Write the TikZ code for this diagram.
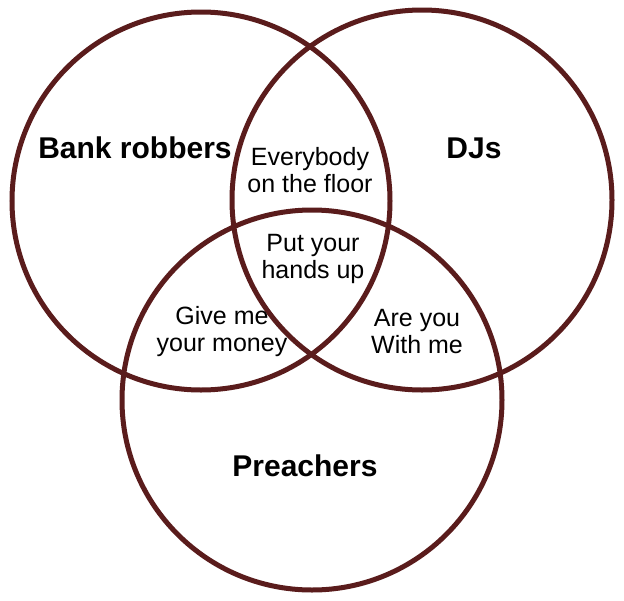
\documentclass[tikz,border=0pt]{standalone}
\usepackage{fontspec}
\setmainfont{Liberation Sans}
\definecolor{ringred}{HTML}{5A1C1C}
\begin{document}
\begin{tikzpicture}
      [
      x=1pt, y=-1pt,
      ring/.style={draw=ringred, line width=5pt},
      group/.style={font=\fontsize{30}{34}\selectfont\bfseries, align=center},
      phrase/.style={font=\fontsize{25}{27}\selectfont, align=center, inner sep=0pt}
      ]
      \useasboundingbox [fill=white] (0,0) rectangle (624,600);
      \draw [ring] (201,201) circle [radius=189pt];
      \draw [ring] (422,200) circle [radius=190pt];
      \draw [ring] (312,400) circle [radius=190pt];
      \node (bank) at (135,148) [group] {Bank robbers};
      \node (djs) at (474,148) [group] {DJs};
      \node (preach) at (305,466) [group] {Preachers};
      \node (floor) at (310,170) [phrase] {Everybody\\on the floor};
      \node (hands) at (313,259) [phrase] {Put your\\hands up};
      \node (money) at (222,332) [phrase] {Give me\\your money};
      \node (withme) at (417,332) [phrase] {Are you\\With me};
\end{tikzpicture}
\end{document}
